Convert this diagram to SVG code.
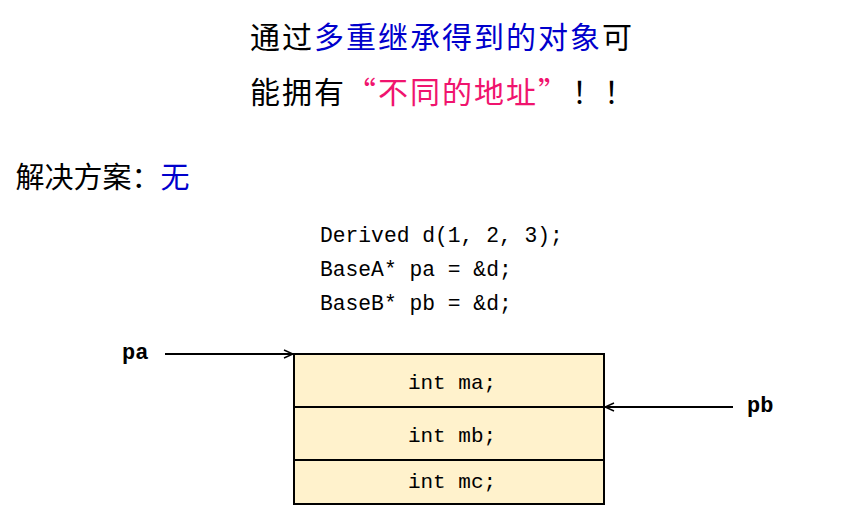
<svg xmlns="http://www.w3.org/2000/svg" width="863" height="516" viewBox="0 0 863 516">
<style>
.cjk{font-family:"Noto Sans CJK SC","Noto Sans",sans-serif;font-size:30px;fill:#000}
.sub{font-size:29px}
.blue{fill:#0000CC}
.pink{fill:#F0146E}
.code{font-family:"Liberation Mono",monospace;font-size:21.3px;fill:#000}
.mem{font-family:"Liberation Mono",monospace;font-size:21px;fill:#000}
.lbl{font-family:"Liberation Mono",monospace;font-size:22px;font-weight:bold;fill:#000}
.cell{fill:#FFF2CC;stroke:#000;stroke-width:2}
.conn{stroke:#000;stroke-width:2;fill:none}
</style>
<defs>
<marker id="arr" viewBox="0 0 10 10" refX="10" refY="5" markerWidth="10" markerHeight="10" markerUnits="userSpaceOnUse" orient="auto">
<path d="M1,1 L10,5 L1,9" fill="none" stroke="#000" stroke-width="1.5"/>
</marker>
</defs>
<rect width="863" height="516" fill="#fff"/>
<g id="title">
<text class="cjk" x="250" y="48" letter-spacing="2">通过<tspan class="blue">多重继承得到的对象</tspan>可</text>
<text class="cjk" y="103"><tspan x="250 282 314">能拥有</tspan><tspan class="pink" x="346">“</tspan><tspan class="pink" x="378 410 442 474 506">不同的地址</tspan><tspan class="pink" x="538">”</tspan><tspan x="572 604">！！</tspan></text>
<text class="cjk sub" y="188"><tspan x="15.5 44.5 73.5 102.5 131.5">解决方案：</tspan><tspan class="blue" x="160.5">无</tspan></text>
</g>
<g id="code">
<text class="code" x="320" y="242">Derived d(1, 2, 3);</text>
<text class="code" x="320" y="276">BaseA* pa = &amp;d;</text>
<text class="code" x="320" y="310">BaseB* pb = &amp;d;</text>
</g>
<g id="cell-ma">
<rect class="cell" x="294" y="354" width="310" height="53"/>
<text class="mem" x="452" y="389" text-anchor="middle">int ma;</text>
</g>
<g id="cell-mb">
<rect class="cell" x="294" y="407" width="310" height="53"/>
<text class="mem" x="452" y="442" text-anchor="middle">int mb;</text>
</g>
<g id="cell-mc">
<rect class="cell" x="294" y="460" width="310" height="44"/>
<text class="mem" x="452" y="488" text-anchor="middle">int mc;</text>
</g>
<g id="pa">
<text class="lbl" x="122" y="359">pa</text>
</g>
<g id="pb">
<text class="lbl" x="747" y="412">pb</text>
</g>
<g id="connectors">
<line class="conn" x1="165" y1="354" x2="293" y2="354" marker-end="url(#arr)"/>
<line class="conn" x1="733" y1="407" x2="605" y2="407" marker-end="url(#arr)"/>
</g>
</svg>
